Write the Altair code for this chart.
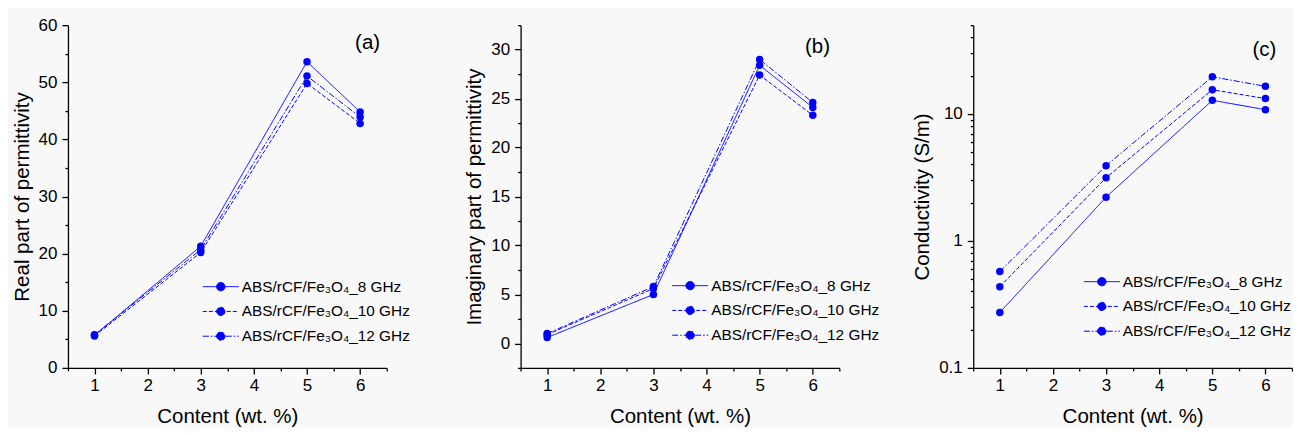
import altair as alt
import pandas as pd

content = [1, 3, 5, 6]
series = ["ABS/rCF/Fe\u2083O\u2084_8 GHz", "ABS/rCF/Fe\u2083O\u2084_10 GHz", "ABS/rCF/Fe\u2083O\u2084_12 GHz"]

real_8 = [5.7, 21.3, 53.6, 44.8]
real_10 = [5.6, 20.2, 49.8, 42.8]
real_12 = [5.8, 20.7, 51.1, 43.9]

imag_8 = [0.6, 5.0, 28.4, 24.1]
imag_10 = [0.9, 5.6, 27.4, 23.3]
imag_12 = [1.0, 5.8, 29.0, 24.6]

cond_8 = [0.273, 2.21, 12.8, 10.8]
cond_10 = [0.436, 3.14, 15.5, 13.2]
cond_12 = [0.573, 3.91, 19.6, 16.5]

x_ticks = [0.5, 1, 1.5, 2, 2.5, 3, 3.5, 4, 4.5, 5, 5.5, 6, 6.5]
x_major = [1, 2, 3, 4, 5, 6]
real_ticks = [0, 5, 10, 15, 20, 25, 30, 35, 40, 45, 50, 55, 60]
real_major = [0, 10, 20, 30, 40, 50, 60]
imag_ticks = [-2.5, 0, 2.5, 5, 7.5, 10, 12.5, 15, 17.5, 20, 22.5, 25, 27.5, 30, 32.5]
imag_major = [0, 5, 10, 15, 20, 25, 30]
cond_ticks = [0.1, 0.2, 0.3, 0.4, 0.5, 0.6, 0.7, 0.8, 0.9, 1, 2, 3, 4, 5, 6, 7, 8, 9,
              10, 20, 30, 40, 50]
cond_major = [0.1, 1, 10]

FONT = "Liberation Sans, Arial, sans-serif"
BLUE = "#0000ff"
DASHES = [[1, 0], [4, 2], [6, 2, 1.5, 2]]
SYMBOL = ("M-4.5,0L4.5,0M-1.05,0A1.05,1.05 0 1,1 1.05,0"
          "A1.05,1.05 0 1,1 -1.05,0Z")


def long_df(a, b, c):
    rows = []
    for s, vals in zip(series, [a, b, c]):
        for x, v in zip(content, vals):
            rows.append({"content": x, "value": v, "series": s})
    return pd.DataFrame(rows)


def tick_axis(values, majors, title, label_pad=4, title_pad=8):
    arr = "[" + ",".join(str(m) for m in majors) + "]"
    lab = f"indexof({arr}, datum.value) >= 0 ? format(datum.value, '~g') : ''"
    return alt.Axis(
        values=values,
        tickCount=500,
        labelExpr=lab,
        title=title,
        grid=False,
        tickSize=6,
        tickWidth=1.3,
        tickColor="black",
        domainColor="black",
        domainWidth=1.3,
        tickDash={"condition": {"test": f"indexof({arr}, datum.value) < 0", "value": [3, 20]},
                  "value": [10, 0]},
        labelFont=FONT,
        labelFontSize=17,
        labelColor="black",
        labelPadding=label_pad,
        titleFont=FONT,
        titleFontSize=20.5,
        titleFontWeight="normal",
        titleColor="black",
        titlePadding=title_pad,
        labelOverlap=False,
        labelFlush=False,
    )


def panel(df, ytitle, ydomain, yvalues, ymajor, ytype, tag, tagpos, legxy):
    xenc = alt.X("content:Q",
                 scale=alt.Scale(domain=[0.5, 6.5], nice=False, zero=False),
                 axis=tick_axis(x_ticks, x_major, "Content (wt. %)", 4, 13))
    yscale = alt.Scale(type=ytype, domain=ydomain, nice=False, zero=False) if ytype == "log" \
        else alt.Scale(domain=ydomain, nice=False, zero=False)
    yenc = alt.Y("value:Q", scale=yscale,
                 axis=tick_axis(yvalues, ymajor, ytitle, 5, 6))
    base = alt.Chart(df)
    lines = base.mark_line(color=BLUE, strokeWidth=1).encode(
        x=xenc, y=yenc,
        strokeDash=alt.StrokeDash(
            "series:N",
            scale=alt.Scale(domain=series, range=DASHES),
            sort=series,
            legend=alt.Legend(
                orient="none", legendX=legxy[0], legendY=legxy[1], title=None,
                symbolType=SYMBOL, symbolSize=64, symbolStrokeWidth=1,
                symbolFillColor=BLUE, symbolStrokeColor=BLUE,
                labelFont=FONT, labelFontSize=15.4, labelColor="black",
                labelOffset=13.3, rowPadding=7.8, padding=0, labelLimit=400,
            ),
        ),
        detail="series:N",
    )
    pts = base.mark_circle(color=BLUE, size=56, opacity=1).encode(
        x=alt.X("content:Q"), y=alt.Y("value:Q"), detail="series:N")
    tag_df = pd.DataFrame({"content": [tagpos[0]], "value": [tagpos[1]], "t": [tag]})
    txt = alt.Chart(tag_df).mark_text(font=FONT, fontSize=20.5, color="black",
                                      baseline="middle", align="center").encode(
        x=alt.X("content:Q"), y=alt.Y("value:Q"), text="t:N")
    return alt.layer(lines, pts, txt).properties(width=319, height=343)


pa = panel(long_df(real_8, real_10, real_12), "Real part of permittivity", [0, 60],
           real_ticks, real_major, "linear", "(a)", (6.14, 56.8), (145.3, 254))
pb = panel(long_df(imag_8, imag_10, imag_12), "Imaginary part of permittivity", [-2.5, 32.5],
           imag_ticks, imag_major, "linear", "(b)", (6.09, 30.3), (162, 253))
pc = panel(long_df(cond_8, cond_10, cond_12), "Conductivity (S/m)", [0.1, 50],
           cond_ticks, cond_major, "log", "(c)", (5.98, 32.1), (121, 249))

chart = alt.hconcat(pa, pb, pc, spacing=134, bounds="flush").resolve_scale(
    strokeDash="independent"
).resolve_legend(
    strokeDash="independent"
).configure_view(
    stroke=None
).properties(
    background="#f8f8f8",
    padding={"left": 4, "top": 8, "right": 0, "bottom": 0},
)

chart.save("out.html", embed_options={"renderer": "svg", "actions": False})
